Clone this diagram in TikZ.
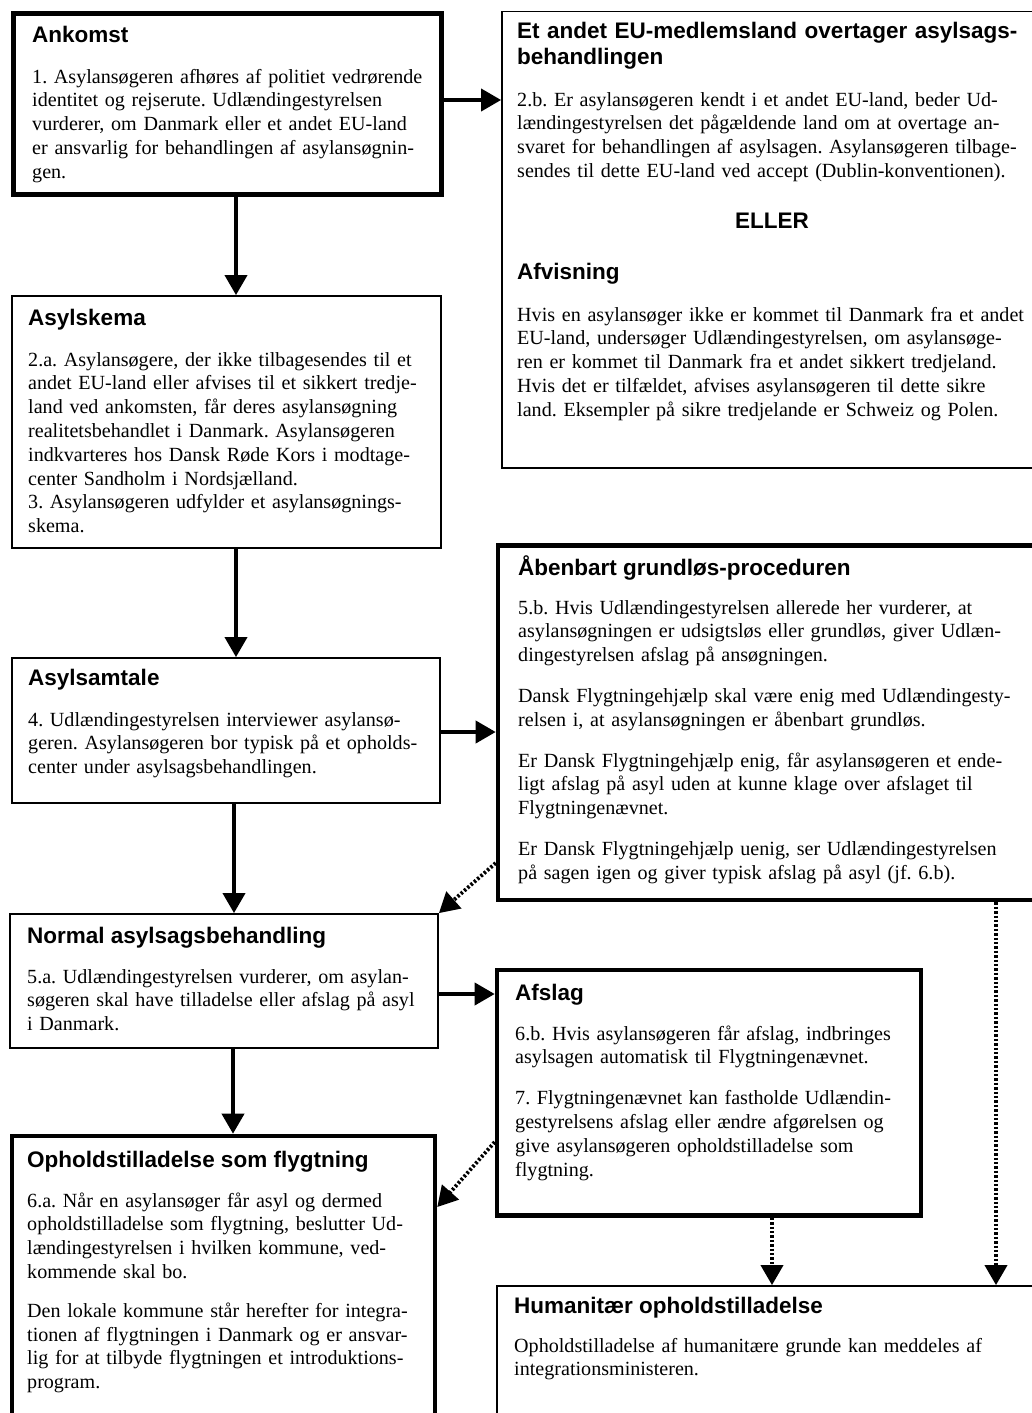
\documentclass[tikz,border=0pt]{standalone}
\usepackage{fontspec}
\setmainfont{Liberation Serif}
\newfontfamily\headfamily{Liberation Sans}
\usetikzlibrary{arrows.meta}
\frenchspacing
\begin{document}
\begin{tikzpicture}[x=1pt,y=-1pt,
  thinbox/.style={draw=black,line width=1.8pt,inner sep=0pt},
  thickbox/.style={draw=black,line width=4.6pt,inner sep=0pt},
  bodytext/.style={font=\fontsize{20.1}{23.8}\selectfont,align=left,inner sep=0pt,anchor=base west,text width=#1},
  bodytext/.default=412pt,
  headtext/.style={font=\headfamily\bfseries\fontsize{22.5}{25.5}\selectfont,inner sep=0pt,anchor=base west},
  arr/.style={line width=3.8pt,-{Triangle[length=20pt,width=22pt]}},
  dotarr/.style={line width=3.8pt,dash pattern=on 2.4pt off 2pt,-{Triangle[length=20pt,width=22pt]}}
]
\fill[white] (0,0) rectangle (1032,1413);
\useasboundingbox (0,0) rectangle (1032,1413);
\clip (0,0) rectangle (1032,1413);

% boxes
\node[thickbox,minimum width=428pt,minimum height=181pt] (ank) at (227.5,104) {};
\node[thinbox,minimum width=543pt,minimum height=456.5pt] (eu) at (773.5,239.75) {};
\node[thinbox,minimum width=429pt,minimum height=252pt] (skema) at (226.5,422) {};
\node[thinbox,minimum width=428pt,minimum height=145pt] (samtale) at (226,730.5) {};
\node[thickbox,minimum width=547pt,minimum height=354.5pt] (aaben) at (771.5,722.75) {};
\node[thinbox,minimum width=428pt,minimum height=134pt] (normal) at (224,981) {};
\node[thickbox,minimum width=424pt,minimum height=245.5pt] (afslag) at (709,1092.75) {};
\node[thickbox,minimum width=423pt,minimum height=294pt] (ophold) at (223.5,1283) {};
\node[thinbox,minimum width=548pt,minimum height=144pt] (human) at (771,1358) {};

% texts
\node[headtext] (ankh) at (32,43) {Ankomst};
\node[bodytext] (ankb) at (32,83) {1. Asylansøgeren afhøres af politiet vedrørende\\
identitet og rejserute. Udlændingestyrelsen\\
vurderer, om Danmark eller et andet EU-land\\
er ansvarlig for behandlingen af asylansøgnin-\\
gen.};

\node[headtext,text width=512pt,align=left] (euh) at (517,39) {Et andet EU-medlemsland overtager asylsags-\\behandlingen};
\node[bodytext=540pt] (eub) at (517,106) {2.b. Er asylansøgeren kendt i et andet EU-land, beder Ud-\\
lændingestyrelsen det pågældende land om at overtage an-\\
svaret for behandlingen af asylsagen. Asylansøgeren tilbage-\\
sendes til dette EU-land ved accept (Dublin-konventionen).};
\node[headtext,anchor=base] (eller) at (772,228) {ELLER};
\node[headtext] (afvh) at (517,279) {Afvisning};
\node[bodytext=540pt] (afvb) at (517,321) {Hvis en asylansøger ikke er kommet til Danmark fra et andet\\
EU-land, undersøger Udlændingestyrelsen, om asylansøge-\\
ren er kommet til Danmark fra et andet sikkert tredjeland.\\
Hvis det er tilfældet, afvises asylansøgeren til dette sikre\\
land. Eksempler på sikre tredjelande er Schweiz og Polen.};

\node[headtext] (skemah) at (28,325) {Asylskema};
\node[bodytext] (skemab) at (28,366) {2.a. Asylansøgere, der ikke tilbagesendes til et\\
andet EU-land eller afvises til et sikkert tredje-\\
land ved ankomsten, får deres asylansøgning\\
realitetsbehandlet i Danmark. Asylansøgeren\\
indkvarteres hos Dansk Røde Kors i modtage-\\
center Sandholm i Nordsjælland.\\
3. Asylansøgeren udfylder et asylansøgnings-\\
skema.};

\node[headtext] (aabenh) at (518,575) {Åbenbart grundløs-proceduren};
\node[bodytext=540pt] (aabenb) at (518,614) {5.b. Hvis Udlændingestyrelsen allerede her vurderer, at\\
asylansøgningen er udsigtsløs eller grundløs, giver Udlæn-\\
dingestyrelsen afslag på ansøgningen.\\[17pt]
Dansk Flygtningehjælp skal være enig med Udlændingesty-\\
relsen i, at asylansøgningen er åbenbart grundløs.\\[17pt]
Er Dansk Flygtningehjælp enig, får asylansøgeren et ende-\\
ligt afslag på asyl uden at kunne klage over afslaget til\\
Flygtningenævnet.\\[17pt]
Er Dansk Flygtningehjælp uenig, ser Udlændingestyrelsen\\
på sagen igen og giver typisk afslag på asyl (jf. 6.b).};

\node[headtext] (samtaleh) at (28,685) {Asylsamtale};
\node[bodytext] (samtaleb) at (28,726) {4. Udlændingestyrelsen interviewer asylansø-\\
geren. Asylansøgeren bor typisk på et opholds-\\
center under asylsagsbehandlingen.};

\node[headtext] (normalh) at (27,943) {Normal asylsagsbehandling};
\node[bodytext] (normalb) at (27,983) {5.a. Udlændingestyrelsen vurderer, om asylan-\\
søgeren skal have tilladelse eller afslag på asyl\\
i Danmark.};

\node[headtext] (afslagh) at (515,1000) {Afslag};
\node[bodytext=402pt] (afslagb) at (515,1040) {6.b. Hvis asylansøgeren får afslag, indbringes\\
asylsagen automatisk til Flygtningenævnet.\\[17pt]
7. Flygtningenævnet kan fastholde Udlændin-\\
gestyrelsens afslag eller ændre afgørelsen og\\
give asylansøgeren opholdstilladelse som\\
flygtning.};

\node[headtext] (ophh) at (27,1167) {Opholdstilladelse som flygtning};
\node[bodytext] (ophb) at (27,1207) {6.a. Når en asylansøger får asyl og dermed\\
opholdstilladelse som flygtning, beslutter Ud-\\
lændingestyrelsen i hvilken kommune, ved-\\
kommende skal bo.\\[15pt]
Den lokale kommune står herefter for integra-\\
tionen af flygtningen i Danmark og er ansvar-\\
lig for at tilbyde flygtningen et introduktions-\\
program.};

\node[headtext] (humh) at (514,1313) {Humanitær opholdstilladelse};
\node[bodytext=540pt] (humb) at (514,1352) {Opholdstilladelse af humanitære grunde kan meddeles af\\
integrationsministeren.};

% connector helpers (only their x or y is used)
\coordinate (vx1) at (236,250);
\coordinate (vx2) at (234,850);
\coordinate (vx3) at (233,1090);
\coordinate (hy1) at (470,100);
\coordinate (hy2) at (470,732);
\coordinate (hy3) at (470,994);
\coordinate (dy1) at (470,863);
\coordinate (dy2) at (470,1142);
\coordinate (ty2) at (470,1207);
\coordinate (dx1) at (772,1250);
\coordinate (dx2) at (996,1250);

% connectors
\draw[arr] (ank.south -| vx1) -- (skema.north -| vx1);
\draw[arr] (skema.south -| vx1) -- (samtale.north -| vx1);
\draw[arr] (samtale.south -| vx2) -- (normal.north -| vx2);
\draw[arr] (normal.south -| vx3) -- (ophold.north -| vx3);
\draw[arr] (ank.east |- hy1) -- (eu.west |- hy1);
\draw[arr] (samtale.east |- hy2) -- (aaben.west |- hy2);
\draw[arr] (normal.east |- hy3) -- (afslag.west |- hy3);
\draw[dotarr] (aaben.west |- dy1) -- (normal.north east);
\draw[dotarr] (afslag.west |- dy2) -- (ophold.east |- ty2);
\draw[dotarr] (afslag.south -| dx1) -- (human.north -| dx1);
\draw[dotarr] (aaben.south -| dx2) -- (human.north -| dx2);
\end{tikzpicture}
\end{document}
